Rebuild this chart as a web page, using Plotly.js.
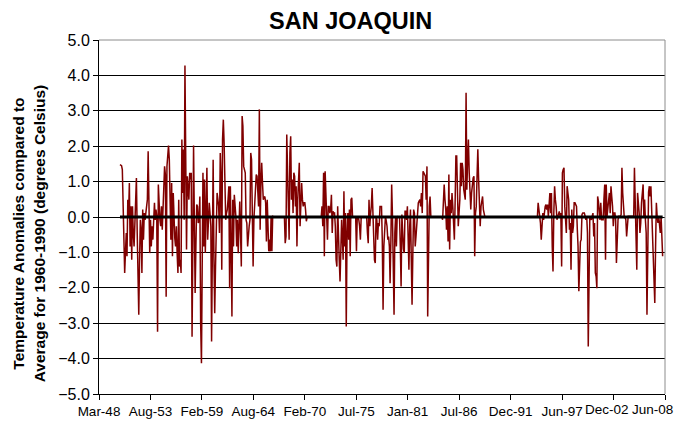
<!DOCTYPE html>
<html>
<head>
<meta charset="utf-8">
<script src="https://cdn.plot.ly/plotly-3.0.1.min.js"></script>
<style>html,body{margin:0;padding:0;background:#fff;}#chart{width:685px;height:423px;}</style>
</head>
<body>
<div id="chart"></div>
<script>
// Monthly temperature anomalies (deg C vs 1960-1990 average), first month = June 1950
var startYear = 1950, startMonth = 6;
var seg1950 = [1.48,1.46,1.45,1.34,0.30,-0.83,-1.58,-1.0,-0.45,-1.11,
  0.49,0.02,0.96,-0.83,0.30,-1.21,0.30,-0.45,-0.83,-0.2,
  0.49,1.10,-0.45,-1.58,-2.76,-1.21,-0.08,-0.36,-1.58,0.21,
  -0.64,0.11,-0.08,0.1,0.30,0.49,1.86,0.30,-1.02,-0.08,
  -0.83,-0.26,-0.64,-0.1,0.40,-0.08,0.21,0.02,-3.24,0.92,
  0.11,-0.08,-0.26,0.30,-0.36,0.49,1.15,1.43,1.2,-2.25,
  1.43,1.95,2.02,1.62,0.49,-0.64,0.96,-1.11,0.68,-0.45,
  -0.6,-0.83,-0.26,-1.02,-1.58,0.49,-1.40,-1.21,-1.58,2.19,
  0.68,1.91,-0.08,4.28,0.87,-0.92,1.15,0.8,0.49,1.25,
  1.06,1.25];
var seg1958 = [-3.38,-1.02,2.02,-0.1,-2.15,-0.83,0.35,0.30,
  -0.17,-0.08,0.58,-3.00,-4.13,-1.5,1.25,-0.83,1.06,-1.02,
  0.21,1.39,-0.64,-0.08,0.40,0.1,-0.26,-3.52,-0.83,1.62,
  -1.21,-2.72,-1.40,0.02,0.68,0.5,0.30,-0.45,1.81,1.15,
  -1.49,2.19,2.75,2.09,1.15,-0.08,0.1,0.21,0.49,0.87,
  -2.01,0.87,-0.83,-2.81,0.49,-0.83,0.63,0.3,0.02,-0.83,
  -0.08,-1.02,0.40,0.44,-0.45,-1.40,2.85,2.57,1.43,1.35,
  1.25,-0.08,-0.17,-0.83,-0.36,-0.26,-0.08,1.81,1.62,0.49,
  -1.40,-0.08,0.30,0.8,1.20,1.15,0.49,0.30,3.04,-0.36,
  0.96,1.53,0.96,0.49,0.55,0.58,0.40,-0.69,0.49,-0.08,
  -0.97];
var seg1966 = [-0.64,-0.97,0.02,-0.97,0.02,
  0,0,0,0,0,0,0,0,0,0,0,0,0,0,0,
  -0.74,-0.55,2.33,1.4,0.49,-0.64,1.81,2.28,0.49,
  1.06,0.11,1.25,1.15,0.30,0.87,-0.83,0.49,1.0,1.53,
  -0.26,0.68,0.96,0.49,0.30,0.40,0.40,0.21,-0.12,
  0,0,0,0,0,0,0,0,0,0,0,0,0,0,0,0,0,0,0,
  0.30,-0.26,1.25,-1.11,1.29,0.49,0.0,-0.64,0.30,0.30,0.11,0.21,
  0.63,-0.45,0.16,0.1,0.11,-0.26,-1.21,-1.40,0.30,-0.83,
  -1.21,-1.82,-0.83,-0.08,-0.6,-1.21,0.73,-0.83,0.11,-3.09,
  -0.45];
var seg1974 = [0.11,-0.64,0.21,-1.11,0.49,0.54,0.02,0,0,
  0,0,-0.97,0,0,-0.08,-0.26,-0.64,0,0,
  0,0,0,0,0,0,-0.45,-0.74,0.49,-0.26,
  0.1,0.30,0.82,0.02,-0.26,-1.21,-1.30,0.02,-0.08,-0.64,
  -0.17,-0.26,0.30,0.3,0.30,-0.64,-2.62,-0.83,-0.26,0.02,
  -0.1,-0.26,-0.64,-0.55,-0.83,-1.87,-0.64,0.92,0.02,-1.2,
  -2.76,-0.45,0.02,-0.83,0.02,0,0,0,-0.83,-1.96,
  0.07,-0.55,-0.9,-1.02,0.16,0.16,-0.08,0.30,-0.45,-1.49,
  -0.26,0.21,-1.21,-2.48,-1.0,0.21,0.11,-0.83,-0.55,-0.26,
  0.21,0.40,0.45,0.49,0.30,0.68,0.11,1.29,1.25,1.2,
  1.15];
var seg1983 = [0.49,1.43,-2.81,-1.0,0.30,0.58,0.02,
  0,0,0,0,0,0,0,0,0,0,0,0,0,
  0,-0.08,0.30,0.92,0.49,0.21,-0.36,0.30,-0.69,
  1.20,-0.92,0.49,0.11,0.68,0.30,-0.1,-0.64,0.49,1.72,
  1.72,0.30,-0.26,0.11,0.49,1.53,0.87,1.53,1.34,0.77,
  0.6,0.49,3.51,0.77,1.62,2.19,1.25,0.68,0.21,0.68,
  1.06,1.1,1.15,-1.11,0.11,0.30,1.15,1.91,1.06,0.49,
  -0.26,0.30,0.45,0.58,0.21,0.07,
  0,0,0,0,0,0,0,0,0,0,0,0,0,0,0,0,0,0,0,0,0,0,0,0,0];
var seg1991 = [0,0,0,0,0,0,0,0,0,0,0,0,0,0,0,0,0,0,0,0,
  0,0,0,0,0,0,0,0,0,0,0,0,0,0,0,0,0,0,0,0,0,0,0,
  0.40,0.2,0.02,-0.17,-0.64,0.02,
  0.11,-0.08,0.21,0.30,0.35,0.21,0.35,0.02,0.35,0.68,
  0.11,0.68,-0.83,-1.54,0.11,0.87,0.49,0.30,-0.08,0.02,
  0.1,0.16,0.02,0.11,-1.40,1.25,1.34,1.39,0.30,-0.08,
  -0.45,0.87,0.7,0.49,-0.36,-0.17,-1.49,0.21,-0.45,-0.26,
  0.40,0.40,0.35,0.30,-0.36,-0.83,-2.10,-0.83,-0.7,-0.64];
var seg1999 = [0.07,0.11,0.1,0.11,0.02,-0.08,0.02,-0.45,-3.66,-2.15,
  0.02,-0.03,-0.08,0.02,0.11,-0.55,-0.17,-1.58,-1.68,-2.01,
  0.58,0.44,0.2,-0.08,0.40,-0.08,-0.08,-0.08,0.49,0.92,
  -1.21,0.92,0.02,0.3,0.49,0.68,0.11,0.87,0.58,0.30,
  -0.26,0.11,0.11,-0.08,-1.30,-0.5,-0.08,0.02,0.02,0.02,
  0.07,1.39,0.68,0.02,-0.03,0,-0.08,-0.55,-0.08,0.02,
  0.02,0.02,0.02,0.02,0.02,0.02,0.02,1.39,0.58,0.02,
  -1.49,0.68,0.40,0.11,-0.45,-0.17,0.4,0.87,0.92,0.02,
  0.49,-0.08,-0.45,-2.76,0.49,0.7,0.87,0.58,0.87,0.11,
  -0.26,-0.83,-1.58,-2.43,-0.83,0.40,0.02,-0.17,0.02,-0.2,
  -0.45,0.02,-0.45,-1.11];
var averageLevel = 0;
var tickLabels = ['Mar-48','Aug-53','Feb-59','Aug-64','Feb-70','Jul-75','Jan-81','Jul-86','Dec-91','Jun-97','Dec-02','Jun-08'];
var axisStart = '1948-03-08', tickStepDays = 2000;

var anomaly = [].concat(seg1950, seg1958, seg1966, seg1974, seg1983, seg1991, seg1999);
function pad(n){return (n<10?'0':'')+n;}
var months = anomaly.map(function(v,i){
  var t = (startMonth-1)+i; var y = startYear+Math.floor(t/12); var m = t%12+1;
  return y+'-'+pad(m)+'-01';
});
function addDays(s,d){var dt=new Date(s+'T00:00:00Z'); dt.setUTCDate(dt.getUTCDate()+d); return dt.toISOString().slice(0,10);}
var tickVals = tickLabels.map(function(_,k){return addDays(axisStart,k*tickStepDays);});
var axisEnd = tickVals[tickVals.length-1];
// the last two labels are nudged left in the original, so they are drawn as annotations at their ticks
var nLab = tickLabels.length;
var tickText = tickLabels.map(function(t,k){return k>=nLab-2 ? '' : t;});

var font = 'Liberation Sans, Arial, sans-serif';
var tickSize = 13.5;
var traces = [
  {x: months, y: anomaly, type:'scatter', mode:'lines', line:{color:'#800000', width:1.5}, hoverinfo:'skip'},
  {x: [months[0], months[months.length-1]], y:[averageLevel, averageLevel], type:'scatter', mode:'lines', line:{color:'#000000', width:3}, hoverinfo:'skip'}
];
var layout = {
  width:685, height:423,
  margin:{l:99, r:20, t:40, b:29},
  paper_bgcolor:'#ffffff', plot_bgcolor:'#ffffff',
  showlegend:false,
  font:{family:font, color:'#000'},
  title:{text:'<b>SAN JOAQUIN</b>', font:{family:font, size:23.5, color:'#000'}, x:0.512, xref:'container', y:0.95, yref:'container', xanchor:'center', yanchor:'middle'},
  xaxis:{type:'date', range:[axisStart, axisEnd], tickmode:'array', tickvals:tickVals, ticktext:tickText,
    showgrid:false, zeroline:false, showline:true, linecolor:'#000', linewidth:1,
    ticks:'outside', ticklen:5, tickcolor:'#000', tickfont:{family:font, size:tickSize, color:'#000'}},
  yaxis:{range:[-5,5], tick0:0, dtick:1, tickformat:'.1f', showgrid:true, gridcolor:'#000', gridwidth:1,
    zeroline:false, showline:true, linecolor:'#000', linewidth:1, ticks:'outside', ticklen:5, tickcolor:'#000',
    tickfont:{family:font, size:16, color:'#000'}},
  shapes:[
    {type:'line', xref:'paper', yref:'paper', x0:0, x1:1, y0:1, y1:1, line:{color:'#8c8c8c', width:1}, layer:'above'},
    {type:'line', xref:'paper', yref:'paper', x0:1, x1:1, y0:0, y1:1, line:{color:'#8c8c8c', width:1}, layer:'above'}
  ],
  annotations:[
    {text:'<b>Temperature Anomalies compared to<br>Average for 1960-1990 (degrees Celsius)</b>', textangle:-90,
     xref:'paper', yref:'paper', x:-0.123, y:0.455, xanchor:'center', yanchor:'middle', showarrow:false,
     font:{family:font, size:15.5, color:'#000'}},
    {text:tickLabels[nLab-2], xref:'x', yref:'paper', x:tickVals[nLab-2], y:0, xanchor:'center', yanchor:'top',
     xshift:-7, yshift:-6, showarrow:false, font:{family:font, size:tickSize, color:'#000'}},
    {text:tickLabels[nLab-1], xref:'x', yref:'paper', x:tickVals[nLab-1], y:0, xanchor:'right', yanchor:'top',
     xshift:10, yshift:-6, showarrow:false, font:{family:font, size:tickSize, color:'#000'}}
  ]
};
Plotly.newPlot('chart', traces, layout, {staticPlot:true, displayModeBar:false});
</script>
</body>
</html>
